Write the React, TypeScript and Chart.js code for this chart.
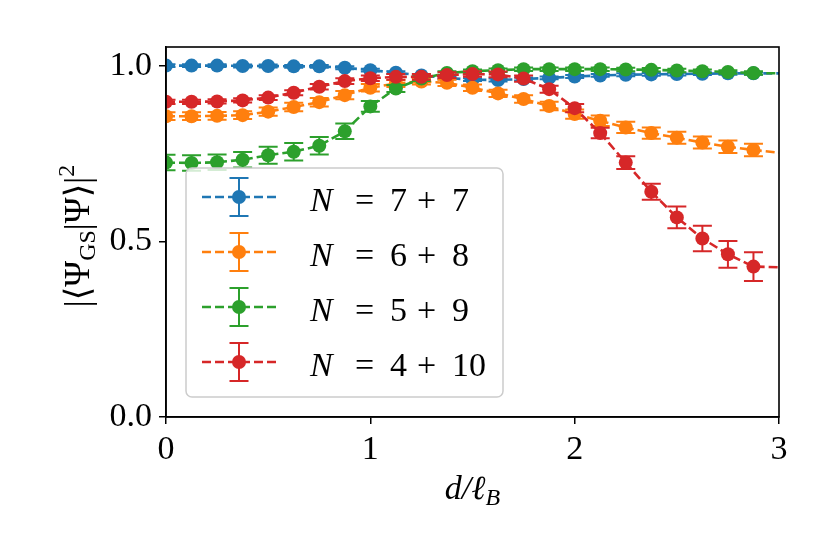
import React, { useEffect, useRef } from 'react';
import { Chart, registerables } from 'chart.js';

Chart.register(...registerables);

// d / l_B
const xValues = [0, 0.125, 0.25, 0.375, 0.5, 0.625, 0.75, 0.875, 1, 1.125, 1.25, 1.375, 1.5, 1.625, 1.75, 1.875, 2, 2.125, 2.25, 2.375, 2.5, 2.625, 2.75, 2.875, 3];

const overlap77 = [1.0, 1.0, 1.0, 0.999, 0.999, 0.998, 0.998, 0.994, 0.987, 0.98, 0.972, 0.965, 0.96, 0.959, 0.962, 0.965, 0.969, 0.972, 0.974, 0.975, 0.976, 0.977, 0.978, 0.978, 0.978];
const overlap68 = [0.856, 0.856, 0.857, 0.859, 0.869, 0.882, 0.896, 0.916, 0.937, 0.949, 0.955, 0.951, 0.937, 0.921, 0.905, 0.885, 0.862, 0.843, 0.824, 0.808, 0.795, 0.781, 0.769, 0.76, 0.752];
const overlap59 = [0.724, 0.723, 0.725, 0.732, 0.745, 0.755, 0.772, 0.813, 0.884, 0.935, 0.963, 0.979, 0.984, 0.987, 0.99, 0.99, 0.99, 0.99, 0.989, 0.988, 0.986, 0.984, 0.982, 0.979, 0.978];
const overlap410 = [0.897, 0.897, 0.898, 0.901, 0.909, 0.923, 0.94, 0.956, 0.964, 0.968, 0.968, 0.973, 0.976, 0.975, 0.963, 0.933, 0.879, 0.808, 0.724, 0.641, 0.568, 0.508, 0.463, 0.428, 0.426];

const err77 = [0.004, 0.004, 0.004, 0.004, 0.004, 0.004, 0.004, 0.004, 0.004, 0.004, 0.004, 0.004, 0.004, 0.004, 0.004, 0.004, 0.004, 0.004, 0.004, 0.004, 0.004, 0.004, 0.004, 0.004, 0];
const err68 = [0.011, 0.011, 0.011, 0.011, 0.012, 0.012, 0.012, 0.012, 0.011, 0.01, 0.009, 0.009, 0.009, 0.01, 0.011, 0.012, 0.013, 0.015, 0.016, 0.016, 0.017, 0.017, 0.018, 0.018, 0];
const err59 = [0.022, 0.022, 0.022, 0.022, 0.024, 0.025, 0.025, 0.022, 0.015, 0.01, 0.007, 0.005, 0.005, 0.005, 0.005, 0.005, 0.005, 0.005, 0.005, 0.005, 0.005, 0.005, 0.005, 0.005, 0];
const err410 = [0.006, 0.006, 0.006, 0.006, 0.007, 0.007, 0.008, 0.008, 0.008, 0.008, 0.008, 0.008, 0.008, 0.008, 0.009, 0.01, 0.012, 0.015, 0.018, 0.023, 0.031, 0.036, 0.038, 0.041, 0];

const seriesNames = [['7', '7'], ['6', '8'], ['5', '9'], ['4', '10']];
const seriesValues = [overlap77, overlap68, overlap59, overlap410];
const seriesErrors = [err77, err68, err59, err410];
const colors = ['#1f77b4', '#ff7f0e', '#2ca02c', '#d62728'];

const xTicks = [0, 1, 2, 3];
const yTicks = [0, 0.5, 1.0];

const FONT = '"Liberation Serif", "DejaVu Serif", serif';
const LINE_W = 2.6;
const DASH = [9, 4];

// error bars, drawn under each dataset's line/markers
const errorBarPlugin = {
  id: 'errorBars',
  beforeDatasetDraw(chart: any, args: any) {
    const i = args.index;
    const errs = seriesErrors[i];
    const vals = seriesValues[i];
    const { ctx, chartArea: a } = chart;
    const xs = chart.scales.x;
    const ys = chart.scales.y;
    ctx.save();
    ctx.beginPath();
    ctx.rect(a.left, a.top, a.right - a.left, a.bottom - a.top);
    ctx.clip();
    ctx.strokeStyle = colors[i];
    ctx.lineWidth = 2;
    xValues.forEach((x, k) => {
      if (!errs[k]) return;
      const px = xs.getPixelForValue(x);
      const top = ys.getPixelForValue(vals[k] + errs[k]);
      const bot = ys.getPixelForValue(vals[k] - errs[k]);
      ctx.beginPath();
      ctx.moveTo(px, top);
      ctx.lineTo(px, bot);
      ctx.moveTo(px - 9.5, top);
      ctx.lineTo(px + 9.5, top);
      ctx.moveTo(px - 9.5, bot);
      ctx.lineTo(px + 9.5, bot);
      ctx.stroke();
    });
    ctx.restore();
  },
};

type Piece = { t: string; size: number; italic?: boolean; dy?: number };

function drawPieces(ctx: CanvasRenderingContext2D, pieces: Piece[], cx: number, baseline: number) {
  const widths = pieces.map((p) => {
    ctx.font = `${p.italic ? 'italic ' : ''}${p.size}px ${FONT}`;
    return ctx.measureText(p.t).width;
  });
  const total = widths.reduce((s, w) => s + w, 0);
  let x = cx - total / 2;
  pieces.forEach((p, k) => {
    ctx.font = `${p.italic ? 'italic ' : ''}${p.size}px ${FONT}`;
    ctx.fillText(p.t, x, baseline + (p.dy || 0));
    x += widths[k];
  });
}

const decorPlugin = {
  id: 'decor',
  afterDraw(chart: any) {
    const { ctx, chartArea: a } = chart;
    ctx.save();
    // frame
    ctx.strokeStyle = '#000';
    ctx.lineWidth = 1.6;
    ctx.strokeRect(a.left, a.top, a.right - a.left, a.bottom - a.top);

    ctx.fillStyle = '#000';
    ctx.textAlign = 'left';
    ctx.textBaseline = 'alphabetic';
    // x title
    drawPieces(ctx, [
      { t: 'd/ℓ', size: 34, italic: true },
      { t: 'B', size: 24, italic: true, dy: 6 },
    ], (a.left + a.right) / 2, 499);

    // y title
    ctx.save();
    ctx.translate(89, 236);
    ctx.rotate(-Math.PI / 2);
    drawPieces(ctx, [
      { t: '|⟨Ψ', size: 35 },
      { t: 'GS', size: 24, dy: 6 },
      { t: '|Ψ⟩|', size: 35 },
      { t: '2', size: 24, dy: -15 },
    ], 0, 0);
    ctx.restore();

    // legend
    const bx = 186, by = 168, bw = 317, bh = 229;
    ctx.beginPath();
    ctx.roundRect(bx, by, bw, bh, 6);
    ctx.fillStyle = 'rgba(255,255,255,0.8)';
    ctx.fill();
    ctx.strokeStyle = '#cccccc';
    ctx.lineWidth = 1.5;
    ctx.stroke();

    seriesNames.forEach((names, i) => {
      const y = 197 + i * 55;
      const c = colors[i];
      ctx.strokeStyle = c;
      ctx.fillStyle = c;
      ctx.lineWidth = LINE_W;
      ctx.setLineDash(DASH);
      ctx.beginPath();
      ctx.moveTo(202, y);
      ctx.lineTo(277, y);
      ctx.stroke();
      ctx.setLineDash([]);
      ctx.lineWidth = 2;
      ctx.beginPath();
      ctx.moveTo(239, y - 19);
      ctx.lineTo(239, y + 19);
      ctx.moveTo(229.5, y - 19);
      ctx.lineTo(248.5, y - 19);
      ctx.moveTo(229.5, y + 19);
      ctx.lineTo(248.5, y + 19);
      ctx.stroke();
      ctx.beginPath();
      ctx.arc(239, y, 7, 0, Math.PI * 2);
      ctx.fill();

      ctx.fillStyle = '#000';
      const base = y + 14;
      ctx.font = `italic 34px ${FONT}`;
      ctx.fillText('N', 310, base);
      ctx.font = `34px ${FONT}`;
      ctx.fillText('=', 355, base);
      ctx.fillText(names[0], 390, base);
      ctx.fillText('+', 417, base);
      ctx.fillText(names[1], 452, base);
    });
    ctx.restore();
  },
};

export default function App() {
  const canvasRef = useRef<HTMLCanvasElement>(null);

  useEffect(() => {
    document.body.style.margin = '0';
    if (!canvasRef.current) return;
    const last = xValues.length - 1;
    const chart = new Chart(canvasRef.current, {
      type: 'line',
      data: {
        datasets: seriesValues.map((vals, i) => ({
          label: `N = ${seriesNames[i][0]} + ${seriesNames[i][1]}`,
          data: xValues.map((x, k) => ({ x, y: vals[k] })),
          borderColor: colors[i],
          backgroundColor: colors[i],
          borderWidth: LINE_W,
          borderDash: DASH,
          pointRadius: (c: any) => (c.dataIndex === last ? 0 : 7),
          pointBorderWidth: 0,
          pointBackgroundColor: colors[i],
          tension: 0,
          clip: 0,
          order: 3 - i,
        })),
      },
      options: {
        responsive: false,
        animation: false,
        events: [],
        layout: { padding: { left: 0, right: 51, top: 47, bottom: 0 } },
        plugins: { legend: { display: false }, tooltip: { enabled: false } },
        scales: {
          x: {
            type: 'linear',
            min: 0,
            max: 3,
            afterFit: (s: any) => { s.height = 137; },
            afterBuildTicks: (s: any) => { s.ticks = xTicks.map((v) => ({ value: v })); },
            grid: { drawOnChartArea: false, drawTicks: true, tickLength: 7, color: '#000', lineWidth: 1.5 },
            border: { display: true, color: '#000', width: 1.6 },
            ticks: { color: '#000', padding: 6, maxRotation: 0, font: { family: FONT, size: 34 }, callback: (v: any) => String(v) },
          },
          y: {
            type: 'linear',
            min: 0,
            max: 1.053,
            afterFit: (s: any) => { s.width = 166; },
            afterBuildTicks: (s: any) => { s.ticks = yTicks.map((v) => ({ value: v })); },
            grid: { drawOnChartArea: false, drawTicks: true, tickLength: 7, color: '#000', lineWidth: 1.5 },
            border: { display: true, color: '#000', width: 1.6 },
            ticks: { color: '#000', padding: 7, font: { family: FONT, size: 34 }, callback: (v: any) => Number(v).toFixed(1) },
          },
        },
      },
      plugins: [errorBarPlugin, decorPlugin],
    } as any);
    return () => chart.destroy();
  }, []);

  return (
    <div style={{ position: 'absolute', left: 0, top: 0, width: 830, height: 554, background: '#fff' }}>
      <canvas ref={canvasRef} width={830} height={554} />
    </div>
  );
}
